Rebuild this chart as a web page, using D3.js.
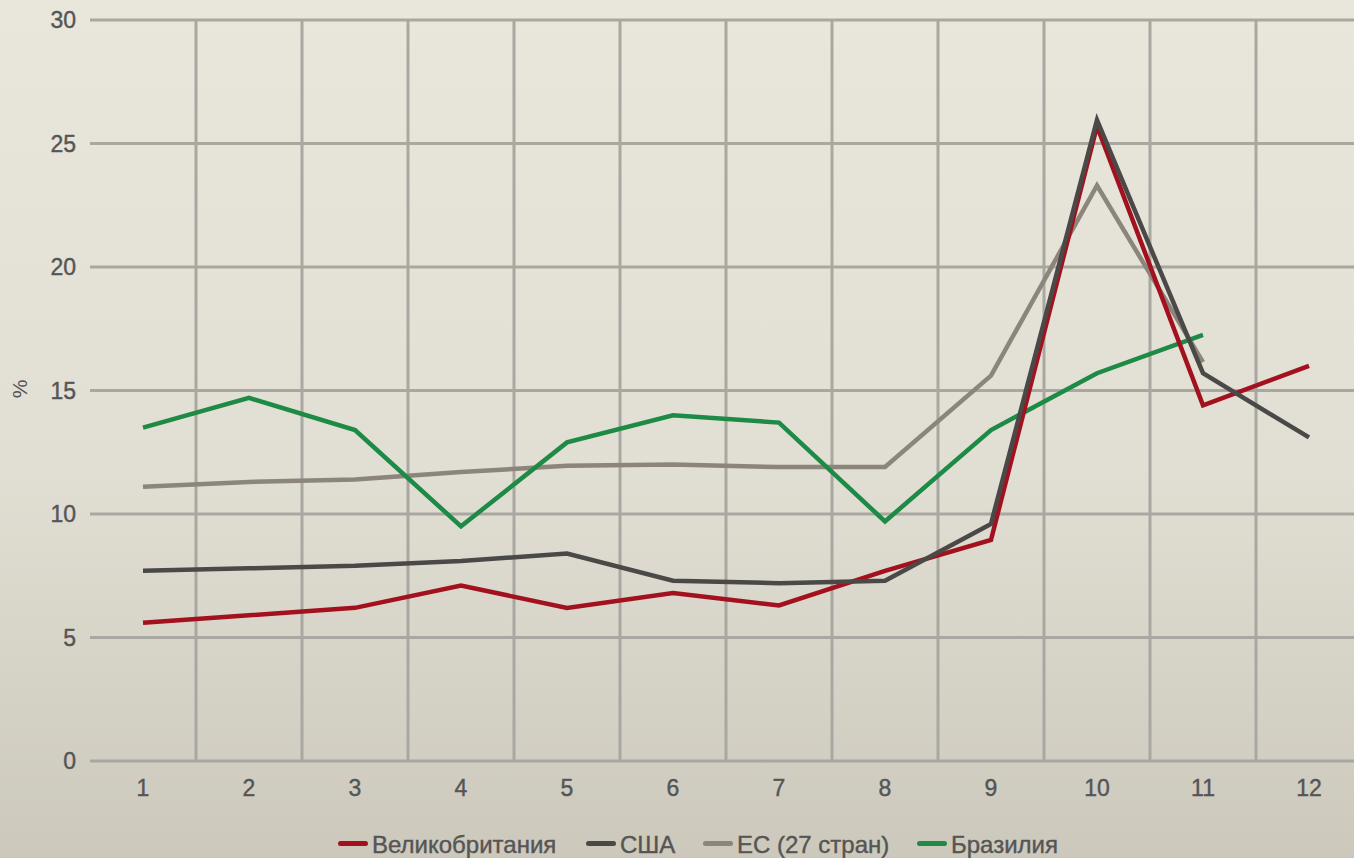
<!DOCTYPE html>
<html><head><meta charset="utf-8">
<script src="https://cdn.jsdelivr.net/npm/d3@7"></script>
<style>html,body{margin:0;padding:0;overflow:hidden;}</style>
</head><body>
<svg id="chart" width="1354" height="858"></svg>
<script>
const categories = ["1","2","3","4","5","6","7","8","9","10","11","12"];
const yTicks = [0,5,10,15,20,25,30];
const seriesNames = ["Великобритания","США","ЕС (27 стран)","Бразилия"];
const seriesColors = ["#a3111e","#4a4948","#8b857b","#1d8a45"];
const ukValues = [5.6,5.9,6.2,7.1,6.2,6.8,6.3,7.7,8.95,25.7,14.4,16.0];
const usaValues = [7.7,7.8,7.9,8.1,8.4,7.3,7.2,7.3,9.6,25.95,15.7,13.1];
const euValues = [11.1,11.3,11.4,11.7,11.95,12.0,11.9,11.9,15.6,23.3,16.15,null];
const brazilValues = [13.5,14.7,13.4,9.5,12.9,14.0,13.7,9.7,13.4,15.7,17.25,null];
const allValues = [ukValues, usaValues, euValues, brazilValues];

const svg = d3.select("#chart");
const W = 1354, H = 858;
const defs = svg.append("defs");
const grad = defs.append("linearGradient").attr("id","bg").attr("x1",0).attr("y1",0).attr("x2",0).attr("y2",1);
grad.append("stop").attr("offset","0%").attr("stop-color","#e9e6dc");
grad.append("stop").attr("offset","55%").attr("stop-color","#e1ded3");
grad.append("stop").attr("offset","100%").attr("stop-color","#ccc8bc");
svg.append("rect").attr("width",W).attr("height",H).attr("fill","url(#bg)");

const x = d3.scaleBand().domain(categories).range([90, 90 + 106*12]).paddingInner(0).paddingOuter(0);
const y = d3.scaleLinear().domain([0,30]).range([761, 20]);

const grid = svg.append("g");
grid.selectAll("line.h").data(yTicks).join("line").attr("class","h")
  .attr("x1",90).attr("x2",W+20).attr("y1",d=>y(d)).attr("y2",d=>y(d))
  .attr("stroke","#a9a7a1").attr("stroke-width",3);
grid.selectAll("line.v").data(categories.slice(1)).join("line").attr("class","v")
  .attr("x1",d=>x(d)).attr("x2",d=>x(d)).attr("y1",y(30)).attr("y2",y(0))
  .attr("stroke","#a9a7a1").attr("stroke-width",3);

const textColor = "#555555";
const font = "'Liberation Sans', Arial, sans-serif";
svg.append("g").selectAll("text").data(yTicks).join("text")
  .attr("x",76).attr("y",d=>y(d)).attr("dy","0.35em").attr("text-anchor","end")
  .attr("font-family",font).attr("font-size",23).attr("fill",textColor)
  .attr("stroke",textColor).attr("stroke-width",0.4).text(d=>d);
svg.append("g").selectAll("text").data(categories).join("text")
  .attr("x",d=>x(d)+x.bandwidth()/2).attr("y",788).attr("dy","0.35em").attr("text-anchor","middle")
  .attr("font-family",font).attr("font-size",23).attr("fill",textColor)
  .attr("stroke",textColor).attr("stroke-width",0.4).text(d=>d);
svg.append("text").attr("transform","translate(20,389) rotate(-90)").attr("text-anchor","middle")
  .attr("dy","0.35em").attr("font-family",font).attr("font-size",21).attr("fill",textColor).text("%");

const line = d3.line().defined(d=>d.v!=null).x(d=>x(d.c)+x.bandwidth()/2).y(d=>y(d.v));
const order = [2,3,0,1];
order.forEach(i=>{
  const data = categories.map((c,j)=>({c, v: allValues[i][j]}));
  svg.append("path").datum(data).attr("d",line).attr("fill","none")
    .attr("stroke",seriesColors[i]).attr("stroke-width",4.5).attr("stroke-linejoin","miter");
});

const legendX = [338, 586, 703, 917];
const lg = svg.append("g");
seriesNames.forEach((n,i)=>{
  lg.append("rect").attr("x",legendX[i]).attr("y",841).attr("width",30).attr("height",5).attr("rx",2.5)
    .attr("fill",seriesColors[i]);
  lg.append("text").attr("x",legendX[i]+34).attr("y",845).attr("dy","0.35em")
    .attr("font-family",font).attr("font-size",24).attr("fill","#555")
    .attr("stroke","#555").attr("stroke-width",0.4).text(n);
});
</script>
</body></html>
